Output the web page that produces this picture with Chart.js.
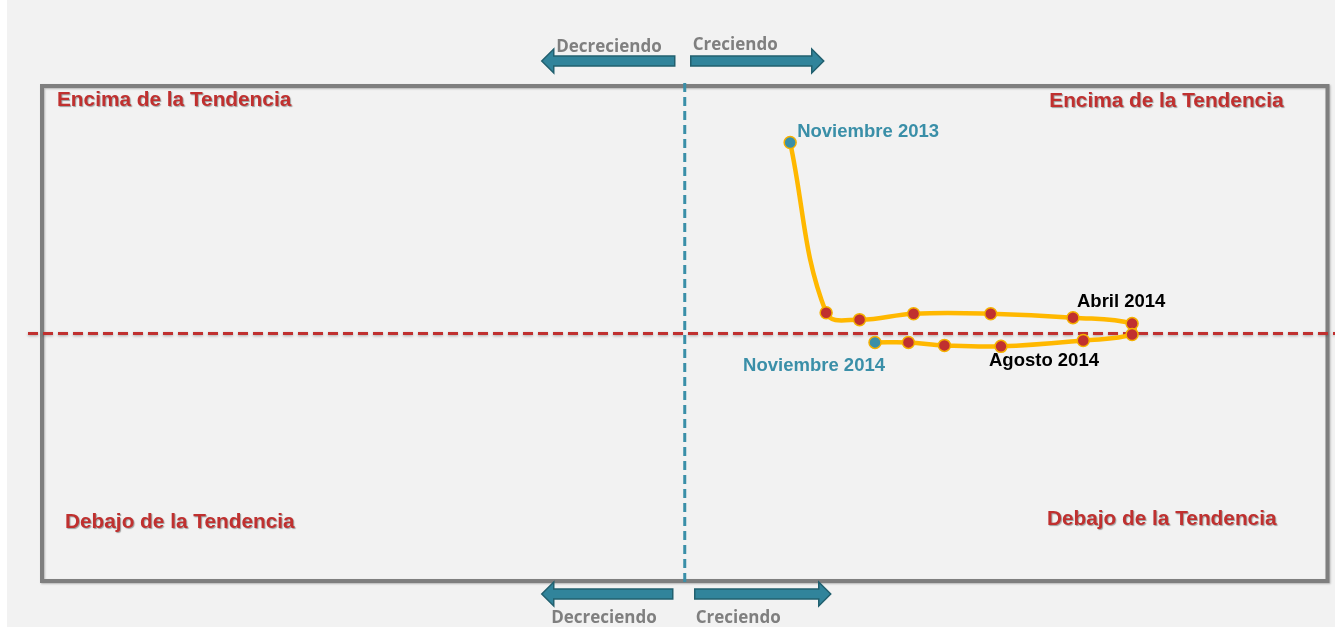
<!DOCTYPE html>
<html>
<head>
<meta charset="utf-8">
<script src="https://cdn.jsdelivr.net/npm/chart.js@4.4.1/dist/chart.umd.min.js"></script>
<style>
  body { margin: 0; background: #ffffff; }
  canvas { display: block; }
</style>
</head>
<body>
<canvas id="cycleChart" width="1335" height="627"></canvas>
<script>
// monthly points, Nov 2013 -> Nov 2014 (100 = trend / no change)
const months = ['Nov 2013', 'Dic 2013', 'Ene 2014', 'Feb 2014', 'Mar 2014', 'Abr 2014', 'May 2014',
  'Jun 2014', 'Jul 2014', 'Ago 2014', 'Sep 2014', 'Oct 2014', 'Nov 2014'];
const growth = [100.41, 100.55, 100.68, 100.89, 101.19, 101.51, 101.74, 101.74, 101.55, 101.23, 101.01, 100.87, 100.74];
const trend = [101.93, 100.21, 100.14, 100.20, 100.20, 100.16, 100.10, 99.99, 99.93, 99.87, 99.88, 99.91, 99.91];

// which points get a name on the chart
const namedIdx = [0, 5, 9, 12];
const namedText = ['Noviembre 2013', 'Abril 2014', 'Agosto 2014', 'Noviembre 2014'];

const quadrantText = ['Encima de la Tendencia', 'Encima de la Tendencia', 'Debajo de la Tendencia', 'Debajo de la Tendencia'];
const arrowText = ['Decreciendo', 'Creciendo'];

const TEAL = '#3a8fa8';
const RED = '#c0302f';

const points = growth.map((g, i) => ({ x: g, y: trend[i] }));

function arrow(ctx, x0, x1, y) {
  // x0 = tail, x1 = tip
  const dir = Math.sign(x1 - x0);
  const headLen = 12, headHalf = 12, bodyHalf = 5;
  const base = x1 - dir * headLen;
  ctx.save();
  ctx.fillStyle = '#31849b';
  ctx.strokeStyle = '#22606f';
  ctx.lineWidth = 1.5;
  ctx.beginPath();
  ctx.moveTo(x0, y - bodyHalf);
  ctx.lineTo(base, y - bodyHalf);
  ctx.lineTo(base, y - headHalf);
  ctx.lineTo(x1, y);
  ctx.lineTo(base, y + headHalf);
  ctx.lineTo(base, y + bodyHalf);
  ctx.lineTo(x0, y + bodyHalf);
  ctx.closePath();
  ctx.fill();
  ctx.stroke();
  ctx.restore();
}

const frame = {
  id: 'frame',
  beforeDraw(chart) {
    const { ctx, width, height, chartArea } = chart;
    const { left, right, top, bottom } = chartArea;
    ctx.save();
    ctx.fillStyle = '#f2f2f2';
    ctx.fillRect(7, 0, width - 7, height);

    // box
    ctx.shadowColor = 'rgba(0,0,0,0.25)';
    ctx.shadowBlur = 2;
    ctx.shadowOffsetX = 1;
    ctx.shadowOffsetY = 1;
    ctx.strokeStyle = '#7f7f7f';
    ctx.lineWidth = 4;
    ctx.strokeRect(left, top, right - left, bottom - top);
    ctx.restore();
  },
  beforeDatasetsDraw(chart) {
    const { ctx, width, chartArea, scales } = chart;
    const cx = scales.x.getPixelForValue(100);
    const cy = scales.y.getPixelForValue(100);
    ctx.save();
    // vertical dashed line
    ctx.strokeStyle = TEAL;
    ctx.lineWidth = 3;
    ctx.setLineDash([9, 5]);
    ctx.beginPath();
    ctx.moveTo(cx, chartArea.top - 3);
    ctx.lineTo(cx, chartArea.bottom + 3);
    ctx.stroke();
    // horizontal dashed line
    ctx.shadowColor = 'rgba(0,0,0,0.3)';
    ctx.shadowBlur = 3;
    ctx.shadowOffsetY = 1;
    ctx.strokeStyle = RED;
    ctx.setLineDash([10, 5]);
    ctx.beginPath();
    ctx.moveTo(28, cy);
    ctx.lineTo(width, cy);
    ctx.stroke();
    ctx.restore();

    // arrows + captions
    const topY = chartArea.top - 25, botY = chartArea.bottom + 13;
    arrow(ctx, cx - 10, cx - 143, topY);
    arrow(ctx, cx + 6, cx + 139, topY);
    arrow(ctx, cx - 12, cx - 143, botY);
    arrow(ctx, cx + 10, cx + 146, botY);
    ctx.save();
    ctx.fillStyle = '#7f7f7f';
    ctx.font = 'bold 17px "Open Sans"';
    ctx.textBaseline = 'middle';
    ctx.textAlign = 'right';
    ctx.fillText(arrowText[0], cx - 23, topY - 14);
    ctx.fillText(arrowText[0], cx - 28, botY + 24);
    ctx.textAlign = 'left';
    ctx.fillText(arrowText[1], cx + 8, topY - 16);
    ctx.fillText(arrowText[1], cx + 11, botY + 24);
    ctx.restore();

    // quadrant captions
    ctx.save();
    ctx.fillStyle = RED;
    ctx.font = 'bold 20.8px "Liberation Sans"';
    ctx.textBaseline = 'middle';
    ctx.shadowColor = 'rgba(0,0,0,0.35)';
    ctx.shadowBlur = 1;
    ctx.shadowOffsetX = 1;
    ctx.shadowOffsetY = 1;
    ctx.textAlign = 'left';
    ctx.fillText(quadrantText[0], chartArea.left + 15, chartArea.top + 14);
    ctx.fillText(quadrantText[2], chartArea.left + 23, chartArea.bottom - 59);
    ctx.textAlign = 'right';
    ctx.fillText(quadrantText[1], chartArea.right - 44, chartArea.top + 15);
    ctx.fillText(quadrantText[3], chartArea.right - 51, chartArea.bottom - 62);
    ctx.restore();
  },
  afterDatasetsDraw(chart) {
    const { ctx } = chart;
    const meta = chart.getDatasetMeta(0);
    // text offsets from each named point: dx, dy, align, colour
    const place = [[7, -11, 'left', TEAL], [4, -16, 'left', '#000'], [-12, 15, 'left', '#000'], [10, 23, 'right', TEAL]];
    ctx.save();
    ctx.font = 'bold 18.5px "Liberation Sans"';
    ctx.textBaseline = 'middle';
    namedIdx.forEach((idx, k) => {
      const p = meta.data[idx];
      const [dx, dy, align, col] = place[k];
      ctx.textAlign = align;
      ctx.fillStyle = col;
      ctx.fillText(namedText[k], p.x + dx, p.y + dy);
    });
    ctx.restore();
  }
};

const pointColors = months.map((m, i) => (i === 0 || i === months.length - 1) ? TEAL : RED);

new Chart(document.getElementById('cycleChart'), {
  type: 'scatter',
  data: {
    labels: months,
    datasets: [{
      label: 'Ciclo',
      data: points,
      showLine: true,
      borderColor: '#ffb800',
      borderWidth: 4.5,
      tension: 0.4,
      pointRadius: 6,
      pointBorderWidth: 1.5,
      pointBorderColor: '#f5b000',
      pointBackgroundColor: pointColors
    }]
  },
  options: {
    responsive: false,
    animation: false,
    layout: { padding: { left: 42, right: 5, top: 86, bottom: 46 } },
    plugins: {
      legend: { display: false },
      tooltip: { enabled: false }
    },
    scales: {
      x: { type: 'linear', min: 97.5, max: 102.5, display: false },
      y: { type: 'linear', min: 97.5, max: 102.5, display: false }
    }
  },
  plugins: [frame]
});
</script>
</body>
</html>
